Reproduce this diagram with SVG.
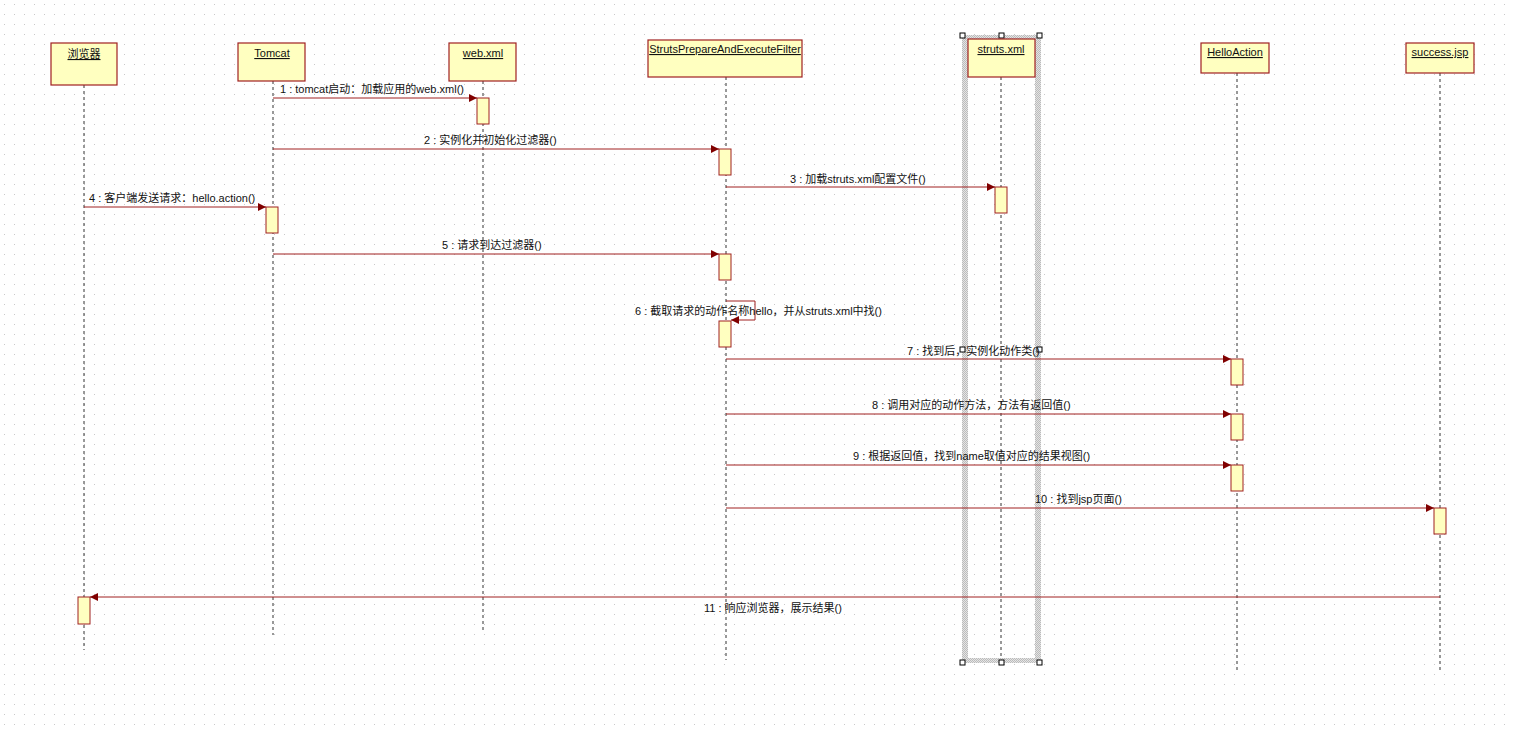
<svg xmlns="http://www.w3.org/2000/svg" width="1514" height="730" viewBox="0 0 1514 730">
<defs>
<pattern id="grid" width="10" height="10" patternUnits="userSpaceOnUse"><rect x="4" y="4" width="1" height="1" fill="#c8c8c8"/></pattern>
<pattern id="hatch" width="2" height="2" patternUnits="userSpaceOnUse"><rect width="2" height="2" fill="#e4e4e4"/><rect width="1" height="1" fill="#bbb"/><rect x="1" y="1" width="1" height="1" fill="#bbb"/></pattern>
<marker id="arr" viewBox="0 0 10 10" refX="10" refY="5" markerWidth="12" markerHeight="8" markerUnits="userSpaceOnUse" orient="auto"><path d="M0,0 L10,5 L0,10 z" fill="#800000"/></marker>
<style>
.box{fill:#ffffc0;stroke:#a02020;stroke-width:1.2}
.act{fill:#ffffc0;stroke:#a02020;stroke-width:1}
.life{stroke:#333;stroke-width:1;stroke-dasharray:3,3}
.msg{stroke:#a02020;stroke-width:1;fill:none;marker-end:url(#arr)}
.t{font-family:"Liberation Sans","Noto Sans CJK SC",sans-serif;font-size:11px;fill:#111}
.n{font-family:"Liberation Sans","Noto Sans CJK SC",sans-serif;font-size:11px;fill:#111;text-decoration:underline;text-anchor:middle}
.h{fill:#fff;stroke:#000;stroke-width:1}
</style>
</defs>
<rect width="1514" height="730" fill="#fff"/>
<rect width="1514" height="730" fill="url(#grid)"/>
<g id="sel">
<rect x="962" y="35" width="6" height="628" fill="url(#hatch)"/>
<rect x="1035" y="35" width="6" height="628" fill="url(#hatch)"/>
<rect x="962" y="35" width="78" height="5" fill="url(#hatch)"/>
<rect x="962" y="658" width="78" height="5" fill="url(#hatch)"/>
<rect class="h" x="960" y="33" width="5" height="5"/><rect class="h" x="999" y="33" width="5" height="5"/><rect class="h" x="1037" y="33" width="5" height="5"/>
<rect class="h" x="960" y="660" width="5" height="5"/><rect class="h" x="999" y="660" width="5" height="5"/><rect class="h" x="1037" y="660" width="5" height="5"/>
<rect class="h" x="960" y="347" width="5" height="5"/><rect class="h" x="1037" y="347" width="5" height="5"/>
</g>
<g id="browser"><line class="life" x1="84" y1="85" x2="84" y2="650"/><rect class="box" x="51" y="43" width="66" height="42"/><text class="n" x="84" y="58">浏览器</text><rect class="act" x="78" y="597" width="12" height="27"/></g>
<g id="tomcat"><line class="life" x1="273" y1="81" x2="273" y2="635"/><rect class="box" x="238" y="43" width="67" height="38"/><text class="n" x="272" y="57">Tomcat</text><rect class="act" x="266" y="207" width="12" height="26"/></g>
<g id="webxml"><line class="life" x1="483" y1="81" x2="483" y2="630"/><rect class="box" x="449" y="43" width="67" height="38"/><text class="n" x="483" y="57">web.xml</text><rect class="act" x="477" y="98" width="12" height="26"/></g>
<g id="filter"><line class="life" x1="726" y1="77" x2="726" y2="660"/><rect class="box" x="648" y="40" width="154" height="37"/><text class="n" x="725" y="53">StrutsPrepareAndExecuteFilter</text>
<rect class="act" x="719" y="149" width="12" height="26"/><rect class="act" x="719" y="254" width="12" height="26"/><rect class="act" x="719" y="321" width="12" height="26"/></g>
<g id="strutsxml"><line class="life" x1="1001" y1="77" x2="1001" y2="658"/><rect class="box" x="968" y="39" width="67" height="38"/><text class="n" x="1001" y="53">struts.xml</text><rect class="act" x="995" y="187" width="12" height="26"/></g>
<g id="helloaction"><line class="life" x1="1237" y1="73" x2="1237" y2="673"/><rect class="box" x="1201" y="43" width="68" height="30"/><text class="n" x="1235" y="56">HelloAction</text>
<rect class="act" x="1231" y="359" width="12" height="26"/><rect class="act" x="1231" y="414" width="12" height="26"/><rect class="act" x="1231" y="465" width="12" height="26"/></g>
<g id="successjsp"><line class="life" x1="1440" y1="73" x2="1440" y2="673"/><rect class="box" x="1406" y="43" width="68" height="30"/><text class="n" x="1440" y="56">success.jsp</text><rect class="act" x="1434" y="508" width="12" height="26"/></g>
<g id="connectors">
<line class="msg" x1="273" y1="98" x2="477" y2="98"/><text class="t" x="280" y="93">1 : tomcat启动：加载应用的web.xml()</text>
<line class="msg" x1="273" y1="149" x2="719" y2="149"/><text class="t" x="424" y="144">2 : 实例化并初始化过滤器()</text>
<line class="msg" x1="726" y1="187" x2="995" y2="187"/><text class="t" x="790" y="183">3 : 加载struts.xml配置文件()</text>
<line class="msg" x1="84" y1="207" x2="266" y2="207"/><text class="t" x="89" y="202">4 : 客户端发送请求：hello.action()</text>
<line class="msg" x1="273" y1="254" x2="719" y2="254"/><text class="t" x="442" y="249">5 : 请求到达过滤器()</text>
<path class="msg" d="M726,301 H755 V320 H731"/><text class="t" x="635" y="315">6 : 截取请求的动作名称hello，并从struts.xml中找()</text>
<line class="msg" x1="726" y1="359" x2="1231" y2="359"/><text class="t" x="907" y="355">7 : 找到后，实例化动作类()</text>
<line class="msg" x1="726" y1="414" x2="1231" y2="414"/><text class="t" x="872" y="409">8 : 调用对应的动作方法，方法有返回值()</text>
<line class="msg" x1="726" y1="465" x2="1231" y2="465"/><text class="t" x="853" y="460">9 : 根据返回值，找到name取值对应的结果视图()</text>
<line class="msg" x1="726" y1="508" x2="1434" y2="508"/><text class="t" x="1035" y="503">10 : 找到jsp页面()</text>
<line class="msg" x1="1440" y1="597" x2="90" y2="597"/><text class="t" x="704" y="612">11 : 响应浏览器，展示结果()</text>
</g>
</svg>
